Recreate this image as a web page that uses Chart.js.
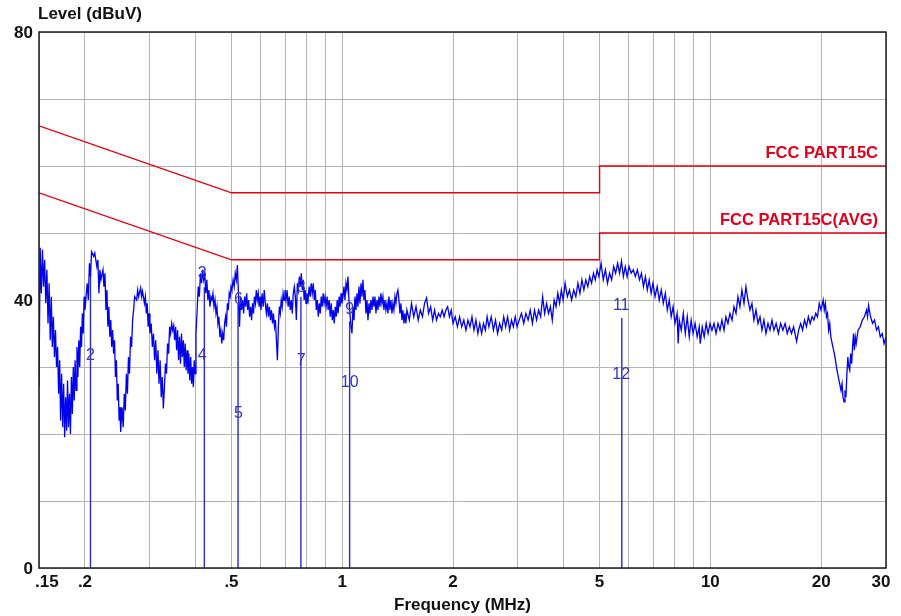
<!DOCTYPE html>
<html><head><meta charset="utf-8">
<script src="https://cdn.jsdelivr.net/npm/chart.js@4.4.1/dist/chart.umd.min.js"></script>
<style>html,body{margin:0;padding:0;background:#fff;}canvas{display:block;}</style>
</head><body>
<canvas id="c" width="901" height="616"></canvas>
<script>
// ---- data ----
const traceFreq = [
0.1500,0.1511,0.1522,0.1533,0.1543,0.1554,0.1565,0.1576,0.1587,0.1598,0.1609,0.1620,0.1630,0.1641,0.1652,0.1663,0.1674,0.1685,0.1696,0.1707,0.1717,0.1728,0.1739,0.1750,0.1761,0.1772,0.1783,0.1793,0.1804,0.1815,0.1826,0.1837,0.1848,0.1859,0.1870,0.1880,0.1891,0.1902,0.1913,0.1924,0.1935,0.1946,0.1957,0.1967,0.1978,0.1989,0.2000,
0.2028,0.2042,0.2056,0.2070,0.2084,0.2112,0.2126,0.2154,0.2168,0.2182,0.2196,0.2210,0.2238,0.2252,0.2266,0.2280,0.2294,0.2308,0.2322,0.2336,0.2350,0.2364,0.2378,0.2392,0.2406,0.2420,0.2434,0.2448,0.2462,0.2476,0.2490,0.2500,
0.2522,0.2540,0.2557,0.2574,0.2591,0.2608,0.2625,0.2642,0.2660,0.2677,0.2694,0.2711,0.2728,0.2763,0.2780,0.2797,0.2832,0.2849,0.2866,0.2900,0.2918,0.2935,0.2952,0.2969,0.2986,0.3003,
0.3026,0.3048,0.3070,0.3091,0.3113,0.3135,0.3157,0.3178,0.3200,0.3222,0.3244,0.3265,0.3287,0.3309,0.3330,0.3352,0.3374,0.3396,0.3417,0.3439,0.3461,0.3483,0.3504,0.3526,0.3548,0.3570,0.3591,0.3613,0.3635,0.3657,0.3678,0.3700,0.3722,0.3743,0.3765,0.3787,0.3809,0.3830,0.3852,0.3874,0.3896,0.3917,0.3939,0.3961,0.3983,0.4004,
0.4034,0.4062,0.4090,0.4118,0.4146,0.4174,0.4202,0.4230,0.4258,0.4286,0.4314,0.4342,0.4370,0.4398,0.4426,0.4454,0.4482,0.4510,0.4538,0.4566,0.4594,0.4622,0.4650,0.4678,0.4706,0.4734,0.4762,0.4790,0.4818,0.4846,0.4874,0.4902,0.4930,0.4958,0.4986,0.5014,
0.5052,0.5086,0.5120,0.5155,0.5189,0.5223,0.5258,0.5292,0.5326,0.5361,0.5395,0.5430,0.5464,0.5498,0.5533,0.5567,0.5601,0.5636,0.5670,0.5704,0.5739,0.5773,0.5808,0.5842,0.5876,0.5911,0.5945,0.5979,0.6014,
0.6057,0.6097,0.6138,0.6178,0.6219,0.6259,0.6300,0.6340,0.6381,0.6421,0.6462,0.6502,0.6543,0.6583,0.6624,0.6664,0.6705,0.6745,0.6786,0.6826,0.6867,0.6907,0.6948,0.6988,
0.7033,0.7080,0.7127,0.7174,0.7221,0.7268,0.7315,0.7362,0.7409,0.7456,0.7503,0.7550,0.7597,0.7644,0.7691,0.7738,0.7785,0.7832,0.7878,0.7925,0.7972,0.8019,
0.8074,0.8128,0.8181,0.8234,0.8287,0.8340,0.8394,0.8447,0.8500,0.8553,0.8606,0.8660,0.8713,0.8766,0.8819,0.8872,0.8926,0.8979,
0.9036,0.9095,0.9154,0.9213,0.9272,0.9331,0.9391,0.9450,0.9509,0.9568,0.9627,0.9686,0.9746,0.9805,0.9864,0.9923,0.9982,
1.0044,1.0107,1.0170,1.0234,1.0298,1.0363,1.0428,1.0493,1.0559,1.0625,1.0692,1.0759,1.0826,1.0894,1.0962,1.1031,1.1100,1.1170,1.1240,1.1310,1.1381,1.1453,1.1524,1.1597,1.1669,1.1743,1.1816,1.1890,1.1965,1.2040,1.2115,1.2191,1.2268,1.2345,1.2422,1.2500,1.2578,1.2657,1.2736,1.2816,1.2896,1.2977,1.3059,1.3140,1.3223,1.3306,1.3389,1.3473,1.3558,1.3643,1.3728,1.3814,1.3901,1.3988,1.4076,1.4164,1.4253,1.4342,1.4432,1.4523,1.4614,1.4705,1.4797,1.4890,1.4983,
1.521,1.542,1.564,1.586,1.608,1.629,1.651,1.673,1.694,1.716,1.738,1.760,1.781,1.803,1.825,1.846,1.868,1.890,1.912,1.933,1.955,1.977,1.999,
2.027,2.055,2.083,2.111,2.139,2.167,2.195,2.223,2.251,2.279,2.307,2.335,2.363,2.391,2.419,2.447,2.475,2.502,
2.539,2.574,2.608,2.642,2.676,2.711,2.745,2.779,2.813,2.848,2.882,2.916,2.950,2.985,
3.024,3.067,3.111,3.154,3.198,3.241,3.285,3.328,3.372,3.415,3.459,3.502,3.546,3.589,3.633,3.676,3.720,3.763,3.807,3.850,3.894,3.937,3.981,
4.031,4.087,4.142,4.198,4.254,4.310,4.366,4.422,4.477,4.533,4.589,4.645,4.701,4.757,4.812,4.868,4.924,4.980,
5.048,5.117,5.186,5.254,5.323,5.392,5.460,5.529,5.598,5.667,5.735,5.804,5.873,5.941,6.010,
6.093,6.174,6.255,6.336,6.417,6.498,6.579,6.660,6.741,6.822,6.903,6.984,
7.075,7.169,7.263,7.357,7.451,7.545,7.639,7.732,7.826,7.920,8.014,
8.122,8.176,8.229,8.335,8.441,8.548,8.654,8.761,8.867,8.973,
9.089,9.207,9.325,9.385,9.503,9.621,9.740,9.858,9.976,
10.10,10.23,10.36,10.49,10.62,10.75,10.89,11.02,11.16,11.30,11.45,11.59,11.74,11.88,12.03,12.18,12.34,12.49,12.65,12.81,12.97,13.13,13.30,13.47,13.64,13.81,13.98,14.16,14.34,14.52,14.70,14.88,
15.09,15.30,15.52,15.74,15.96,16.17,16.39,16.61,16.83,17.05,17.15,17.37,17.59,17.80,18.02,18.24,18.46,18.67,18.89,19.11,19.33,19.54,19.76,19.98,
20.25,20.39,20.53,20.67,20.81,20.95,21.10,21.24,21.52,21.80,22.08,22.36,22.64,22.79,22.93,23.07,23.21,23.35,23.49,23.63,23.77,23.91,24.05,24.20,24.34,24.48,24.62,24.76,24.90,
25.19,25.53,25.87,26.21,26.56,26.73,26.90,27.24,27.58,27.93,28.27,28.61,28.95,29.30,29.64,30.0
];
const traceLevel = [
27.0,47.8,41.0,47.5,42.0,46.0,39.5,44.5,36.5,42.5,34.0,40.5,33.0,37.5,31.5,35.5,30.0,33.0,26.0,31.0,22.0,29.0,21.0,27.5,19.5,25.5,20.5,28.0,21.0,26.0,20.0,28.5,23.0,30.0,25.0,31.0,26.5,33.0,28.5,34.0,30.0,36.0,33.0,38.0,35.0,40.5,38.5,
42.5,40.0,45.5,43.5,47.2,46.5,47.0,45.0,46.0,41.0,44.5,43.0,44.5,42.0,44.0,38.5,41.5,36.0,39.0,34.5,37.0,33.0,35.5,32.0,34.0,28.5,31.0,25.0,27.5,22.0,24.0,20.3,
24.0,21.0,26.0,23.5,29.0,26.0,31.5,29.0,34.5,33.0,37.0,38.5,40.5,40.0,41.5,40.5,41.8,40.5,41.3,39.5,40.5,38.0,39.5,36.0,38.0,35.0,
36.5,33.0,35.0,31.0,34.0,29.0,32.5,27.5,31.0,25.5,28.5,23.8,27.0,30.5,29.0,33.5,32.0,36.0,35.0,36.5,35.5,36.2,34.0,36.0,32.5,35.5,31.0,34.5,30.5,35.0,31.5,34.0,30.0,33.5,29.5,32.5,29.0,32.0,28.0,31.5,27.5,30.0,27.0,31.0,29.0,35.0,
38.5,42.0,40.5,44.0,42.5,44.5,43.0,44.0,41.0,43.0,40.0,41.5,39.0,40.5,40.0,41.0,39.0,40.0,38.0,39.0,36.5,37.5,34.5,35.5,33.5,35.0,34.0,36.5,37.5,36.0,39.5,38.5,41.0,40.5,42.0,41.5,
43.0,42.0,44.0,43.0,45.2,41.0,36.0,40.5,38.5,40.0,38.0,40.5,39.0,41.0,38.5,40.0,37.5,39.0,37.0,39.5,38.0,40.5,39.5,41.5,40.0,41.0,39.0,40.5,38.5,
41.0,39.0,41.5,39.5,38.0,39.5,37.5,39.0,37.0,38.5,36.5,38.0,36.0,37.0,34.0,31.0,36.0,39.0,38.0,40.0,39.0,41.0,40.0,41.5,
40.0,41.5,39.0,40.5,38.5,40.0,38.0,41.0,42.0,40.5,37.0,42.5,41.5,43.5,42.0,44.0,41.5,43.0,40.0,41.5,39.5,41.0,
40.0,42.0,40.5,42.5,41.0,42.5,40.0,41.5,38.5,40.0,37.5,39.5,38.0,40.5,39.0,41.0,39.5,40.5,
39.0,40.5,38.5,40.0,37.5,39.5,37.0,38.5,36.5,39.0,37.5,40.0,38.0,40.5,39.0,41.0,39.5,
40.5,42.0,40.0,42.5,41.5,43.5,40.0,38.0,36.0,35.0,39.0,37.0,40.5,38.5,41.0,39.0,42.0,39.5,42.5,40.5,43.0,40.0,41.5,38.0,40.0,37.0,39.5,38.0,40.0,38.5,40.5,39.0,40.5,38.0,40.0,38.5,40.5,39.0,41.0,39.5,40.5,38.5,40.0,38.5,39.5,38.0,40.5,38.5,40.0,38.0,39.5,38.5,40.5,39.5,41.0,41.5,40.0,38.0,39.5,37.0,38.5,36.5,38.0,36.5,38.5,
37.0,39.5,37.5,39.0,37.0,38.5,37.5,39.5,40.3,38.0,39.0,37.0,38.5,37.0,38.0,37.5,38.5,37.5,38.5,39.0,37.5,38.5,36.5,
37.5,36.0,37.5,36.0,37.0,35.5,37.0,36.0,37.5,35.5,37.0,35.0,36.5,35.0,36.5,35.5,37.5,36.0,
37.5,35.5,37.0,35.0,36.5,35.5,37.5,36.0,37.5,35.5,37.0,36.0,37.5,36.0,
37.0,38.0,36.5,38.0,37.0,38.5,36.5,38.5,37.0,38.5,37.5,40.5,38.0,39.5,38.0,39.0,37.0,40.0,39.0,41.0,39.5,41.5,40.0,
42.5,40.5,41.5,40.0,41.5,40.5,42.5,41.0,43.0,41.5,43.0,42.0,43.5,42.5,44.0,43.0,44.5,43.5,
45.5,43.0,44.5,42.5,44.0,43.0,45.0,44.0,45.5,44.0,45.8,43.5,45.0,43.5,45.0,
44.0,44.5,43.5,44.5,43.0,44.0,42.0,43.5,41.5,43.0,41.0,42.5,
40.5,42.0,40.0,41.5,39.5,41.0,38.5,40.0,37.5,39.0,36.5,
38.0,33.5,37.0,35.5,38.0,35.0,37.5,34.5,37.0,35.0,
36.5,34.5,36.0,33.5,36.0,34.5,36.5,35.0,36.5,
35.5,36.5,35.0,36.5,35.5,37.0,35.5,37.5,36.5,38.0,37.0,39.0,38.0,40.5,39.0,41.5,39.5,42.0,40.0,38.5,39.5,37.0,38.5,36.5,37.5,35.5,37.0,35.0,36.5,35.5,37.0,35.5,
36.5,35.0,36.5,35.5,36.5,35.0,36.0,35.0,36.0,34.5,33.8,35.5,36.5,35.5,37.0,36.0,37.5,36.5,37.5,37.0,38.0,37.5,39.5,38.5,
40.0,38.5,39.5,37.5,38.0,35.5,36.5,34.5,33.0,31.5,29.5,28.0,26.5,27.5,25.5,24.8,26.5,25.5,29.0,31.5,30.0,29.5,32.0,30.5,33.0,35.0,32.5,34.5,33.5,
35.5,36.0,37.0,37.5,38.5,37.5,39.2,37.5,36.5,37.0,35.5,36.0,34.5,35.0,33.5,34.5
];

// limit lines (FCC Part 15C, QP and AVG)
const limitFreq  = [0.15, 0.5, 0.5, 5, 5, 30];
const qpLimit    = [66, 56, 56, 56, 60, 60];
const avgLimit   = [56, 46, 46, 46, 50, 50];
const limitNames = ['FCC PART15C', 'FCC PART15C(AVG)'];

// marker lines and marker labels
const markerFreq  = [0.207, 0.422, 0.521, 0.772, 1.047, 5.746];
const markerTop   = [44.0, 41.9, 39.5, 40.5, 36.8, 37.3];
const markerLabel = ['2','3','4','5','6','7','8','9','10','11','12'];
const markerLabelFreq  = [0.207, 0.4165, 0.4165, 0.5223, 0.5223, 0.7737, 0.7737, 1.048, 1.048, 5.725, 5.725];
const markerLabelLevel = [31.7, 44.0, 31.7, 23.1, 40.0, 31.0, 41.9, 38.5, 27.6, 39.2, 28.9];

// axes
const xGridValues  = [0.15,0.2,0.3,0.4,0.5,0.6,0.7,0.8,0.9,1,2,3,4,5,6,7,8,9,10,20,30];
const xTickValues  = [0.15, 0.2, 0.5, 1, 2, 5, 10, 20, 30];
const xTickLabels  = ['.15', '.2', '.5', '1', '2', '5', '10', '20', '30'];
const yTickValues  = [0, 40, 80];
const yTickLabels  = ['0', '40', '80'];
const xTitle = 'Frequency (MHz)';
const yTitle = 'Level (dBuV)';

// ---- chart ----
const FONT = '"Liberation Sans", Arial, sans-serif';
const pts = (xs, ys) => xs.map((x, i) => ({x: x, y: ys[i]}));

const datasets = [];
markerFreq.forEach((f, i) => {
  datasets.push({data: [{x: f, y: 0}, {x: f, y: markerTop[i]}], borderColor: '#2a2ad0', borderWidth: 1.4, pointRadius: 0, order: 3});
});
datasets.push({data: pts(traceFreq, traceLevel), borderColor: '#0000f0', borderWidth: 1.3, pointRadius: 0, order: 2});
datasets.push({data: pts(limitFreq, qpLimit), borderColor: '#e00010', borderWidth: 1.4, pointRadius: 0, order: 1});
datasets.push({data: pts(limitFreq, avgLimit), borderColor: '#e00010', borderWidth: 1.4, pointRadius: 0, order: 1});

const decor = {
  id: 'decor',
  afterDraw(chart) {
    const {ctx, chartArea: a, scales: {x, y}} = chart;
    ctx.save();
    // frame
    ctx.strokeStyle = '#1c1c1c';
    ctx.lineWidth = 1.5;
    ctx.strokeRect(a.left, a.top, a.right - a.left, a.bottom - a.top);
    // limit names
    ctx.fillStyle = '#e0001c';
    ctx.font = 'bold 16.5px ' + FONT;
    ctx.textAlign = 'right';
    ctx.textBaseline = 'middle';
    ctx.fillText(limitNames[0], a.right - 8, y.getPixelForValue(qpLimit[qpLimit.length - 1]) - 13);
    ctx.fillText(limitNames[1], a.right - 8, y.getPixelForValue(avgLimit[avgLimit.length - 1]) - 13);
    // marker labels
    ctx.fillStyle = '#3434c8';
    ctx.font = '16px ' + FONT;
    ctx.textAlign = 'center';
    markerLabel.forEach((t, i) => {
      ctx.fillText(t, x.getPixelForValue(markerLabelFreq[i]), y.getPixelForValue(markerLabelLevel[i]));
    });
    // tick labels
    ctx.fillStyle = '#111';
    ctx.font = 'bold 17px ' + FONT;
    ctx.textBaseline = 'middle';
    xTickValues.forEach((v, i) => {
      let px = x.getPixelForValue(v);
      ctx.textAlign = 'center';
      if (i === 0) { ctx.textAlign = 'left'; px -= 4; }
      if (i === xTickValues.length - 1) { px -= 5; }
      ctx.fillText(xTickLabels[i], px, a.bottom + 14);
    });
    ctx.textAlign = 'right';
    yTickValues.forEach((v, i) => {
      ctx.fillText(yTickLabels[i], a.left - 6, y.getPixelForValue(v) + 1);
    });
    // titles
    ctx.textAlign = 'left';
    ctx.fillText(yTitle, a.left - 1, a.top - 18);
    ctx.textAlign = 'center';
    ctx.fillText(xTitle, (a.left + a.right) / 2, a.bottom + 37);
    ctx.restore();
  }
};

new Chart(document.getElementById('c'), {
  type: 'line',
  data: {datasets},
  options: {
    responsive: false,
    animation: false,
    events: [],
    layout: {padding: {left: 39, top: 32, right: 15, bottom: 48}},
    plugins: {legend: {display: false}, tooltip: {enabled: false}},
    elements: {line: {tension: 0}},
    scales: {
      x: {
        type: 'logarithmic', min: 0.15, max: 30,
        afterBuildTicks: s => { s.ticks = xGridValues.map(v => ({value: v})); },
        grid: {color: '#b4b4b4', lineWidth: 1, drawTicks: false},
        border: {display: false},
        ticks: {display: false}
      },
      y: {
        type: 'linear', min: 0, max: 80,
        ticks: {display: false, stepSize: 10},
        grid: {color: '#b4b4b4', lineWidth: 1, drawTicks: false},
        border: {display: false}
      }
    }
  },
  plugins: [decor]
});
</script>
</body></html>
